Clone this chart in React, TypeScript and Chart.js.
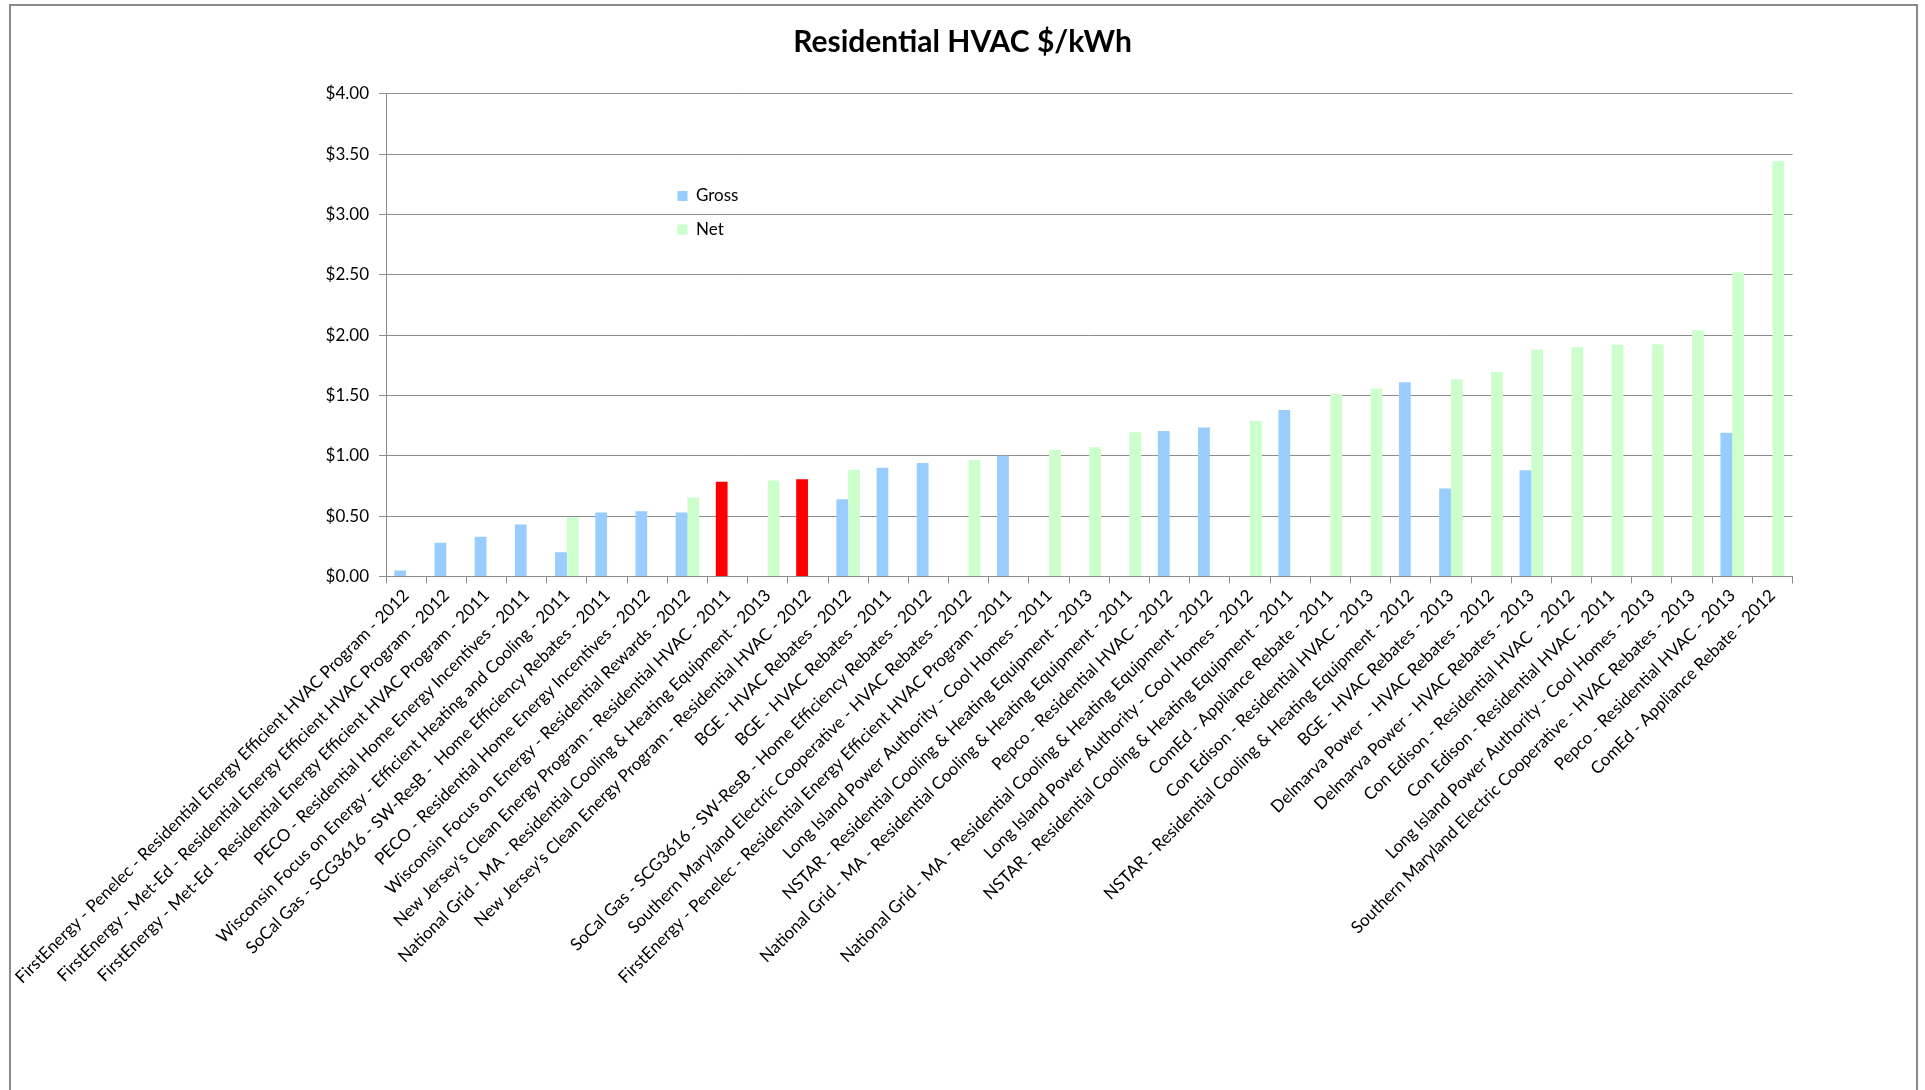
import React, { useEffect, useRef } from "react";
import { Chart, registerables } from "chart.js";

Chart.register(...registerables);

const chartTitle = "Residential HVAC $/kWh";

const categories: string[] = [
  "FirstEnergy - Penelec - Residential Energy Efficient HVAC Program - 2012",
  "FirstEnergy - Met-Ed - Residential Energy Efficient HVAC Program - 2012",
  "FirstEnergy - Met-Ed - Residential Energy Efficient HVAC Program - 2011",
  "PECO - Residential Home Energy Incentives - 2011",
  "Wisconsin Focus on Energy - Efficient Heating and Cooling - 2011",
  "SoCal Gas - SCG3616 - SW-ResB -  Home Efficiency Rebates - 2011",
  "PECO - Residential Home Energy Incentives - 2012",
  "Wisconsin Focus on Energy - Residential Rewards - 2012",
  "New Jersey's Clean Energy Program - Residential HVAC - 2011",
  "National Grid - MA - Residential Cooling & Heating Equipment - 2013",
  "New Jersey's Clean Energy Program - Residential HVAC - 2012",
  "BGE - HVAC Rebates - 2012",
  "BGE - HVAC Rebates - 2011",
  "SoCal Gas - SCG3616 - SW-ResB - Home Efficiency Rebates - 2012",
  "Southern Maryland Electric Cooperative - HVAC Rebates - 2012",
  "FirstEnergy - Penelec - Residential Energy Efficient HVAC Program - 2011",
  "Long Island Power Authority - Cool Homes - 2011",
  "NSTAR - Residential Cooling & Heating Equipment - 2013",
  "National Grid - MA - Residential Cooling & Heating Equipment - 2011",
  "Pepco - Residential HVAC - 2012",
  "National Grid - MA - Residential Cooling & Heating Equipment - 2012",
  "Long Island Power Authority - Cool Homes - 2012",
  "NSTAR - Residential Cooling & Heating Equipment - 2011",
  "ComEd - Appliance Rebate - 2011",
  "Con Edison - Residential HVAC - 2013",
  "NSTAR - Residential Cooling & Heating Equipment - 2012",
  "BGE - HVAC Rebates - 2013",
  "Delmarva Power  - HVAC Rebates - 2012",
  "Delmarva Power - HVAC Rebates - 2013",
  "Con Edison - Residential HVAC  - 2012",
  "Con Edison - Residential HVAC - 2011",
  "Long Island Power Authority - Cool Homes - 2013",
  "Southern Maryland Electric Cooperative - HVAC Rebates - 2013",
  "Pepco - Residential HVAC - 2013",
  "ComEd - Appliance Rebate - 2012",
];

const grossValues: (number | null)[] = [
  0.05, 0.28, 0.33, 0.43, 0.2, 0.53, 0.54, 0.53, 0.785, null,
  0.805, 0.64, 0.9, 0.94, null, 1.0, null, null, null, 1.205,
  1.235, null, 1.38, null, null, 1.61, 0.73, null, 0.88, null,
  null, null, null, 1.19, null,
];

const netValues: (number | null)[] = [
  null, null, null, null, 0.49, null, null, 0.655, null, 0.795,
  null, 0.885, null, null, 0.965, null, 1.05, 1.07, 1.195, null,
  null, 1.29, null, 1.515, 1.555, null, 1.635, 1.695, 1.88, 1.9,
  1.92, 1.925, 2.04, 2.52, 3.44,
];

// category indices whose Gross bar is highlighted in red
const highlightedGross: number[] = [8, 10];

const seriesNames = ["Gross", "Net"];
const yMin = 0;
const yMax = 4;
const yStep = 0.5;

const GROSS_COLOR = "#99CCFF";
const NET_COLOR = "#CCFFCC";
const HIGHLIGHT_COLOR = "#FF0000";
const GRID_COLOR = "#8c8c8c";
const FONT = "Lato, 'Open Sans', sans-serif";

export default function App() {
  const ref = useRef<HTMLCanvasElement>(null);

  useEffect(() => {
    if (!ref.current) return;

    const framePlugin = {
      id: "frame",
      beforeDraw(chart: any) {
        const { ctx } = chart;
        ctx.save();
        ctx.strokeStyle = "#8a8a8a";
        ctx.lineWidth = 2;
        ctx.strokeRect(10, 5, 1907, 1200);
        ctx.restore();
      },
    };

    const legendPlacer = {
      id: "legendPlacer",
      beforeDraw(chart: any) {
        const lg = chart.legend;
        if (!lg) return;
        const w = lg.width;
        const h = lg.height;
        lg.left = 661;
        lg.top = 171;
        lg.right = lg.left + w;
        lg.bottom = lg.top + h;
      },
    };

    const chart = new Chart(ref.current, {
      type: "bar",
      data: {
        labels: categories,
        datasets: [
          {
            label: seriesNames[0],
            data: grossValues,
            backgroundColor: (ctx: any) =>
              ctx.dataIndex !== undefined && highlightedGross.includes(ctx.dataIndex)
                ? HIGHLIGHT_COLOR
                : GROSS_COLOR,
            borderWidth: 0,
            categoryPercentage: 0.585,
            barPercentage: 1.0,
          },
          {
            label: seriesNames[1],
            data: netValues,
            backgroundColor: NET_COLOR,
            borderWidth: 0,
            categoryPercentage: 0.585,
            barPercentage: 1.0,
          },
        ],
      },
      options: {
        responsive: false,
        animation: false,
        layout: { padding: { left: 132.5, right: 132.5, top: 0, bottom: 0 } },
        plugins: {
          title: {
            display: true,
            text: chartTitle,
            color: "#000",
            font: { family: FONT, size: 30, weight: "bold" },
            padding: { top: 24, bottom: 33.7 },
          },
          legend: {
            display: true,
            position: "chartArea" as any,
            align: "start",
            fullSize: false,
            labels: {
              boxWidth: 10,
              boxHeight: 10,
              padding: 16.5,
              color: "#000",
              font: { family: FONT, size: 17 },
            },
          },
          tooltip: { enabled: false },
        },
        scales: {
          x: {
            grid: {
              display: true,
              drawOnChartArea: false,
              drawTicks: true,
              tickLength: 7,
              color: GRID_COLOR,
              offset: true,
            },
            border: { color: GRID_COLOR },
            ticks: {
              autoSkip: false,
              maxRotation: 45,
              minRotation: 45,
              color: "#000",
              padding: 2,
              font: { family: FONT, size: 17 },
            },
            afterFit: (s: any) => {
              s.height = 513.5;
            },
          },
          y: {
            min: yMin,
            max: yMax,
            grid: { color: GRID_COLOR, tickLength: 7 },
            border: { color: GRID_COLOR },
            ticks: {
              stepSize: yStep,
              color: "#000",
              padding: 10,
              font: { family: FONT, size: 17 },
              callback: (v: any) => "$" + Number(v).toFixed(2),
            },
            afterFit: (s: any) => {
              s.width = 253.5;
            },
          },
        },
      },
      plugins: [framePlugin, legendPlacer],
    });

    return () => chart.destroy();
  }, []);

  return (
    <div
      style={{
        position: "fixed",
        left: 0,
        top: 0,
        width: 1925,
        height: 1090,
        background: "#fff",
      }}
    >
      <canvas ref={ref} width={1925} height={1090} style={{ display: "block" }} />
    </div>
  );
}
